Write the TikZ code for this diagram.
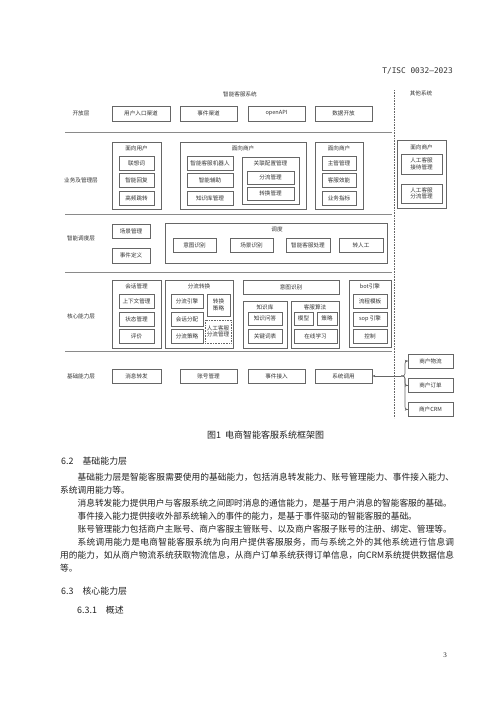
\documentclass[tikz,border=0pt]{standalone}
\usepackage{fontspec}
\setmainfont{Noto Sans CJK SC}
\newfontfamily\monofont{DejaVu Sans Mono}
\newfontfamily\serifnum{Liberation Serif}
\XeTeXlinebreaklocale "zh"
\XeTeXlinebreakskip=0pt plus 1pt
\usetikzlibrary{arrows.meta}

\definecolor{boxgray}{HTML}{666666}
\definecolor{sepgray}{HTML}{8A8A8A}
\definecolor{txtgray}{HTML}{333333}
\definecolor{bodytext}{HTML}{222222}

\newcommand{\dsize}{\fontsize{5.6}{6.6}\selectfont}

\begin{document}
\begin{tikzpicture}[x=1pt,y=-1pt,
  box/.style={draw=boxgray,line width=0.6pt,inner sep=0pt,font=\dsize,text=txtgray,align=center},
  ttl/.style={font=\dsize,text=txtgray,inner sep=0pt},
  sepline/.style={draw=sepgray,line width=0.7pt},
  conn/.style={draw=boxgray,line width=0.6pt,>={Stealth[length=3pt,width=2.4pt]}}]
\fill[white] (0,0) rectangle (500,707);
\useasboundingbox (0,0) rectangle (500,707);

% header and titles
\node[font=\monofont\fontsize{7.8}{9}\selectfont,text=txtgray,anchor=east,inner sep=0pt] (std_no) at (453,71) {T/ISC 0032—2023};
\node[ttl] (sys_title) at (240,94) {智能客服系统};
\node[ttl] (other_title) at (421,93) {其他系统};
\draw[boxgray,densely dotted,line width=0.6pt] (394,90) -- (394,418);

% layer labels
\node[ttl] (open_layer) at (81,113.5) {开放层};
\node[ttl] (biz_layer) at (81,180) {业务及管理层};
\node[ttl] (sched_layer) at (81,238) {智能调度层};
\node[ttl] (core_layer) at (81,316) {核心能力层};
\node[ttl] (base_layer) at (81,376) {基础能力层};

\draw[sepline] (65,132) -- (392,132);
\draw[sepline] (65,214) -- (392,214);
\draw[sepline] (65,272) -- (392,272);
\draw[sepline] (65,351) -- (392,351);

% open layer
\node[box,minimum width=58pt,minimum height=15pt] (entry_channel) at (141,113.5) {用户入口渠道};
\node[box,minimum width=57pt,minimum height=15pt] (event_channel) at (208.5,113.5) {事件渠道};
\node[box,minimum width=57pt,minimum height=15pt] (open_api) at (276.5,113.5) {openAPI};
\node[box,minimum width=57pt,minimum height=15pt] (data_open) at (343.5,113.5) {数据开放};

% business and management layer
\node[box,minimum width=49pt,minimum height=67pt] (user_group) at (136.5,175.5) {};
\node[ttl] (user_title) at (136.5,148) {面向用户};
\node[box,minimum width=35pt,minimum height=14pt] (assoc_word) at (136.5,163) {联想词};
\node[box,minimum width=35pt,minimum height=14pt] (smart_reply) at (136.5,180.5) {智能回复};
\node[box,minimum width=35pt,minimum height=14pt] (hot_jump) at (136.5,198) {高频跳转};

\node[box,minimum width=126pt,minimum height=67pt] (merchant_group) at (243,175.5) {};
\node[ttl] (merchant_title) at (243,148) {面向商户};
\node[box,minimum width=46pt,minimum height=14pt] (cs_robot) at (210,163) {智能客服机器人};
\node[box,minimum width=46pt,minimum height=14pt] (smart_assist) at (210,180.5) {智能辅助};
\node[box,minimum width=46pt,minimum height=14pt] (kb_manage) at (210,198) {知识库管理};
\node[box,minimum width=57pt,minimum height=47pt] (link_config) at (270.5,180.5) {};
\node[ttl] (link_title) at (270.5,163) {关联配置管理};
\node[box,minimum width=47pt,minimum height=13pt] (flow_manage) at (270.5,177.5) {分流管理};
\node[box,minimum width=47pt,minimum height=13pt] (conv_manage) at (270.5,193.5) {转换管理};

\node[box,minimum width=48pt,minimum height=67pt] (merchant_group2) at (339,175.5) {};
\node[ttl] (merchant_title2) at (339,148) {面向商户};
\node[box,minimum width=34pt,minimum height=14pt] (lead_manage) at (339,163) {主管管理};
\node[box,minimum width=34pt,minimum height=14pt] (cs_perf) at (339,180.5) {客服效能};
\node[box,minimum width=34pt,minimum height=14pt] (biz_index) at (339,198) {业务指标};

\node[box,minimum width=49pt,minimum height=68pt] (other_group) at (421.5,174) {};
\node[ttl] (other_merchant) at (421.5,147) {面向商户};
\node[box,minimum width=41pt,minimum height=20pt] (agent_recv) at (421.5,164) {人工客服\\接待管理};
\node[box,minimum width=41pt,minimum height=19pt] (agent_flow) at (421.5,193.5) {人工客服\\分流管理};

% scheduling layer
\node[box,minimum width=38pt,minimum height=14pt] (scene_manage) at (131,231) {场景管理};
\node[box,minimum width=38pt,minimum height=15pt] (event_define) at (131,255.5) {事件定义};
\node[box,minimum width=222pt,minimum height=40pt] (dispatch) at (276,243) {};
\node[ttl] (dispatch_title) at (277,229) {调度};
\node[box,minimum width=43pt,minimum height=14pt] (intent_rec) at (194.5,245) {意图识别};
\node[box,minimum width=43pt,minimum height=14pt] (scene_rec) at (251.5,245) {场景识别};
\node[box,minimum width=44pt,minimum height=14pt] (cs_handle) at (308,245) {智能客服处理};
\node[box,minimum width=44pt,minimum height=14pt] (to_agent) at (361,245) {转人工};

% core layer
\node[box,minimum width=49pt,minimum height=68pt] (session_group) at (136.5,314) {};
\node[ttl] (session_title) at (136.5,286) {会话管理};
\node[box,minimum width=35pt,minimum height=14pt] (context_manage) at (136.5,301.5) {上下文管理};
\node[box,minimum width=35pt,minimum height=14pt] (state_manage) at (136.5,319) {状态管理};
\node[box,minimum width=35pt,minimum height=14pt] (evaluate) at (136.5,336.5) {评价};

\node[box,minimum width=68pt,minimum height=68pt] (flow_group) at (199,314) {};
\node[ttl] (flow_title) at (199,286) {分流转换};
\node[box,minimum width=32pt,minimum height=14pt] (flow_engine) at (187,301.5) {分流引擎};
\node[box,minimum width=32pt,minimum height=14pt] (session_alloc) at (187,319) {会话分配};
\node[box,minimum width=32pt,minimum height=14pt] (flow_policy) at (187,336.5) {分流策略};
\node[box,minimum width=23pt,minimum height=22pt] (conv_policy) at (218.5,305) {转换\\策略};
\node[box,densely dotted,minimum width=26pt,minimum height=23pt] (agent_flow2) at (218,331.5) {人工客服\\分流管理};

\node[box,minimum width=96pt,minimum height=14pt] (intent_core) at (291,287) {意图识别};
\node[box,minimum width=44pt,minimum height=47pt] (kb_group) at (265,324.5) {};
\node[ttl] (kb_title) at (265,307) {知识库};
\node[box,minimum width=34pt,minimum height=13pt] (kb_qa) at (265,318.5) {知识问答};
\node[box,minimum width=34pt,minimum height=14pt] (keyword_table) at (265,336) {关键词表};
\node[box,minimum width=48pt,minimum height=47pt] (algo_group) at (315,324.5) {};
\node[ttl] (algo_title) at (315,307) {客服算法};
\node[box,minimum width=19pt,minimum height=13pt] (algo_model) at (303.5,318.5) {模型};
\node[box,minimum width=20pt,minimum height=13pt] (algo_policy) at (327,318.5) {策略};
\node[box,minimum width=43pt,minimum height=14pt] (online_learn) at (315.5,336) {在线学习};

\node[box,minimum width=42pt,minimum height=67pt] (bot_group) at (370,313.5) {};
\node[ttl] (bot_title) at (370,286) {bot引擎};
\node[box,minimum width=34pt,minimum height=13.5pt] (flow_template) at (370,301.5) {流程模板};
\node[box,minimum width=34pt,minimum height=14pt] (sop_engine) at (370,319) {sop 引擎};
\node[box,minimum width=34pt,minimum height=14pt] (bot_control) at (370,336) {控制};

% base layer
\node[box,minimum width=49pt,minimum height=14pt] (msg_forward) at (136.5,376) {消息转发};
\node[box,minimum width=57pt,minimum height=14pt] (account) at (208.5,376) {账号管理};
\node[box,minimum width=57pt,minimum height=14pt] (event_in) at (276.5,376) {事件接入};
\node[box,minimum width=57pt,minimum height=14pt] (sys_call) at (343.5,376) {系统调用};

% other systems
\node[box,minimum width=45pt,minimum height=14pt] (logistics) at (430.5,361) {商户物流};
\node[box,minimum width=45pt,minimum height=14pt] (orders) at (430.5,385.5) {商户订单};
\node[box,minimum width=45pt,minimum height=14pt] (crm) at (430.5,409.5) {商户CRM};
\coordinate (brace_tip) at (401,376);
\draw[conn,->] (brace_tip) -- (sys_call.east);
\draw[conn,->,rounded corners=2.5pt] (brace_tip) -- ++(4,0) |- (logistics.west);
\draw[conn,->,rounded corners=2.5pt] (brace_tip) -- ++(4,0) |- (orders.west);
\draw[conn,->,rounded corners=2.5pt] (brace_tip) -- ++(4,0) |- (crm.west);

% caption and text
\node[anchor=west,font=\fontsize{9}{10}\selectfont,text=bodytext,inner sep=0pt] (fig_caption) at (207,435) {图1\hspace{4pt}电商智能客服系统框架图};
\node[anchor=west,font=\fontsize{8.9}{10}\selectfont,text=bodytext,inner sep=0pt] (sec_62) at (61,461) {6.2\hspace{9pt}基础能力层};
\node[anchor=base west,text width=394pt,align=justify,inner sep=0pt,font=\fontsize{8.7}{13.1}\selectfont,text=bodytext] (body_62) at (60,480) {%
\hspace*{2em}基础能力层是智能客服需要使用的基础能力，包括消息转发能力、账号管理能力、事件接入能力、\linebreak 系统调用能力等。\par
\hspace*{2em}消息转发能力提供用户与客服系统之间即时消息的通信能力，是基于用户消息的智能客服的基础。\par
\hspace*{2em}事件接入能力提供接收外部系统输入的事件的能力，是基于事件驱动的智能客服的基础。\par
\hspace*{2em}账号管理能力包括商户主账号、商户客服主管账号、以及商户客服子账号的注册、绑定、管理等。\par
\hspace*{2em}系统调用能力是电商智能客服系统为向用户提供客服服务，而与系统之外的其他系统进行信息调\linebreak 用的能力，如从商户物流系统获取物流信息，从商户订单系统获得订单信息，向CRM系统提供数据信息\linebreak 等。};
\node[anchor=west,font=\fontsize{8.9}{10}\selectfont,text=bodytext,inner sep=0pt] (sec_63) at (61,591) {6.3\hspace{9pt}核心能力层};
\node[anchor=west,font=\fontsize{8.9}{10}\selectfont,text=bodytext,inner sep=0pt] (sec_631) at (77,610) {6.3.1\hspace{9pt}概述};
\node[font=\serifnum\fontsize{7}{8}\selectfont,text=bodytext,inner sep=0pt] (page_no) at (445,655) {3};
\end{tikzpicture}
\end{document}
